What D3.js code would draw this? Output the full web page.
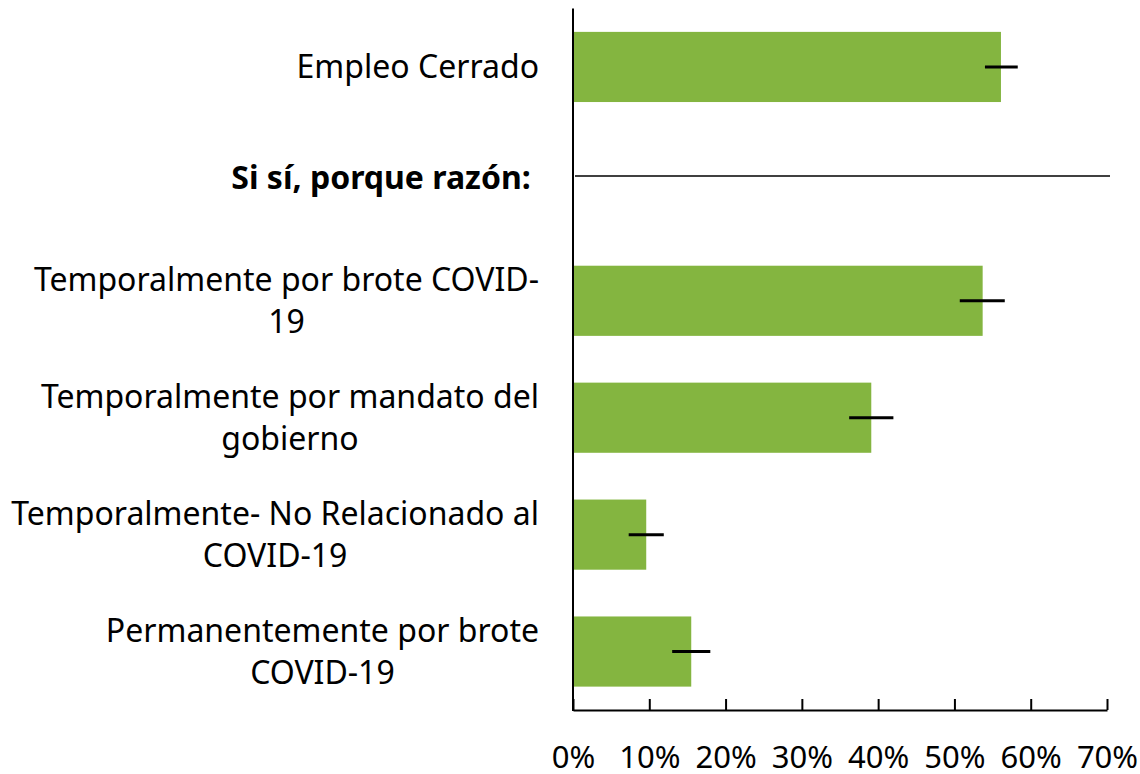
<!DOCTYPE html>
<html lang="es">
<head>
<meta charset="UTF-8">
<title>Empleo Cerrado</title>
<script src="https://d3js.org/d3.v7.min.js"></script>
<style>
    body, html { margin: 0; padding: 0; background: #fff; overflow: hidden; }
    svg text { font-family: "Noto Sans", "Open Sans", sans-serif; fill: #000; }
    .cat { font-size: 32px; }
    .cat.bold { font-weight: bold; }
    .tick text { font-size: 31px; }
</style>
</head>
<body>
<svg id="chart" width="1140" height="774"></svg>
<script>
    // categories, with line breaks as in the original labels
    const categories = [
        ["Empleo Cerrado"],
        ["Si sí, porque razón:\u00a0"],
        ["Temporalmente por brote COVID-", "19"],
        ["Temporalmente por mandato del", "gobierno"],
        ["Temporalmente- No Relacionado al", "COVID-19"],
        ["Permanentemente por brote", "COVID-19"]
    ];
    const headerIndex = 1; // the bold "Si sí" row has no bar, only a rule
    const values = [0.561, null, 0.537, 0.391, 0.096, 0.155];
    const errLow = [0.540, null, 0.507, 0.362, 0.073, 0.130];
    const errHigh = [0.583, null, 0.566, 0.420, 0.119, 0.180];
    const xTicks = [0, 0.1, 0.2, 0.3, 0.4, 0.5, 0.6, 0.7];

    const margin = { top: 8.5, left: 573, right: 33, bottom: 64 };
    const W = 1140, H = 774;
    const svg = d3.select("#chart");

    const x = d3.scaleLinear()
        .domain([0, 0.7])
        .range([margin.left, W - margin.right]);

    const y = d3.scaleBand()
        .domain(d3.range(categories.length))
        .range([margin.top, H - margin.bottom])
        .paddingInner(0.4)
        .paddingOuter(0.2);

    const rows = d3.range(categories.length);
    const barRows = rows.filter(i => values[i] != null);

    // bars
    svg.append("g")
        .selectAll("rect")
        .data(barRows)
        .join("rect")
        .attr("x", x(0))
        .attr("y", i => y(i))
        .attr("width", i => x(values[i]) - x(0))
        .attr("height", y.bandwidth())
        .attr("fill", "#84b540");

    // error bars (horizontal only)
    svg.append("g")
        .selectAll("line")
        .data(barRows)
        .join("line")
        .attr("x1", i => x(errLow[i]))
        .attr("x2", i => x(errHigh[i]))
        .attr("y1", i => y(i) + y.bandwidth() / 2)
        .attr("y2", i => y(i) + y.bandwidth() / 2)
        .attr("stroke", "#000")
        .attr("stroke-width", 3);

    // separator rule for the header row
    const ruleY = y(headerIndex) + y.bandwidth() / 2 - 8;
    svg.append("line")
        .attr("x1", x(0) + 2)
        .attr("x2", x(0.7) + 3)
        .attr("y1", ruleY)
        .attr("y2", ruleY)
        .attr("stroke", "#000")
        .attr("stroke-width", 1.5);

    // x axis, ticks pointing up
    const xAxis = d3.axisBottom(x)
        .tickValues(xTicks)
        .tickFormat(d3.format(".0%"))
        .tickSizeInner(-11)
        .tickSizeOuter(0)
        .tickPadding(36);

    const gx = svg.append("g")
        .attr("transform", `translate(0,${H - margin.bottom})`)
        .call(xAxis);
    gx.select(".domain").attr("stroke", "#000").attr("stroke-width", 2);
    gx.selectAll(".tick line").attr("stroke", "#000").attr("stroke-width", 2);
    gx.selectAll(".tick text").attr("font-family", null).attr("font-size", null);

    // y axis line
    svg.append("line")
        .attr("x1", x(0))
        .attr("x2", x(0))
        .attr("y1", margin.top)
        .attr("y2", H - margin.bottom + 1)
        .attr("stroke", "#000")
        .attr("stroke-width", 2);

    // category labels: block right-aligned, lines centred inside the block
    const lineH = 42;
    const labelRight = x(0) - 34;
    const labels = svg.append("g");
    rows.forEach(i => {
        const lines = categories[i];
        const cy = y(i) + y.bandwidth() / 2 + (i === headerIndex ? -6 : 0);
        const t = labels.append("text")
            .attr("class", i === headerIndex ? "cat bold" : "cat")
            .attr("text-anchor", "middle");
        lines.forEach((ln, k) => {
            t.append("tspan")
                .attr("y", cy + (k - (lines.length - 1) / 2) * lineH)
                .attr("dy", "0.35em")
                .text(ln);
        });
        let maxW = 0;
        t.selectAll("tspan").each(function () {
            maxW = Math.max(maxW, this.getComputedTextLength());
        });
        t.selectAll("tspan").attr("x", labelRight - maxW / 2);
    });
</script>
</body>
</html>
